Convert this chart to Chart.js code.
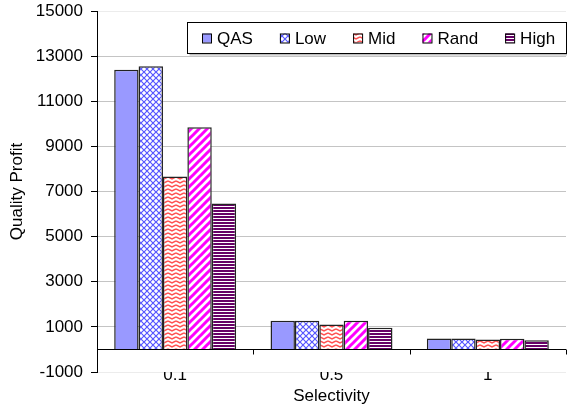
<!DOCTYPE html>
<html>
<head>
<meta charset="utf-8">
<script src="https://cdn.jsdelivr.net/npm/chart.js@4.4.0/dist/chart.umd.min.js"></script>
<style>
  body { margin: 0; background: #fff; }
  canvas { display: block; }
</style>
</head>
<body>
<canvas id="chart" width="567" height="412"></canvas>
<script>
"use strict";

// data
const categories = ["0.1", "0.5", "1"];
const seriesNames = ["QAS", "Low", "Mid", "Rand", "High"];
const qasValues = [12400, 1270, 490];
const lowValues = [12550, 1270, 490];
const midValues = [7670, 1100, 440];
const randValues = [9850, 1270, 470];
const highValues = [6470, 960, 410];
const yMin = -1000;
const yMax = 15000;
const yStep = 2000;

const FONT = "'Liberation Sans', Arial, sans-serif";
const FS = 17;

// patterns
function makePattern(w, h, draw) {
  const c = document.createElement("canvas");
  c.width = w;
  c.height = h;
  const g = c.getContext("2d");
  g.fillStyle = "#fff";
  g.fillRect(0, 0, w, h);
  draw(g);
  return document.getElementById("chart").getContext("2d").createPattern(c, "repeat");
}

const crossPattern = makePattern(6, 6, (g) => {
  g.strokeStyle = "#5555ff";
  g.lineWidth = 1.2;
  g.beginPath();
  g.moveTo(0, 0); g.lineTo(6, 6);
  g.moveTo(0, 6); g.lineTo(6, 0);
  g.stroke();
});

const zigzagPattern = makePattern(8, 4, (g) => {
  g.strokeStyle = "#ff5050";
  g.lineWidth = 1.4;
  g.beginPath();
  g.moveTo(0, 1); g.lineTo(4, 3); g.lineTo(8, 1);
  g.stroke();
});

const diagPattern = makePattern(8, 8, (g) => {
  g.strokeStyle = "#ff00ff";
  g.lineWidth = 3;
  g.beginPath();
  g.moveTo(-2, 10); g.lineTo(10, -2);
  g.moveTo(-6, 6); g.lineTo(6, -6);
  g.moveTo(2, 14); g.lineTo(14, 2);
  g.stroke();
});

const stripePattern = makePattern(4, 3, (g) => {
  g.fillStyle = "#660066";
  g.fillRect(0, 0, 4, 2);
});

const fills = ["#9999ff", crossPattern, zigzagPattern, diagPattern, stripePattern];
const values = [qasValues, lowValues, midValues, randValues, highValues];

// zero line and category ticks
const zeroLinePlugin = {
  id: "zeroLine",
  afterDatasetsDraw(chart) {
    const { ctx, chartArea, scales } = chart;
    const y0 = Math.round(scales.y.getPixelForValue(0)) + 0.5;
    ctx.save();
    ctx.strokeStyle = "#000";
    ctx.lineWidth = 1;
    ctx.beginPath();
    ctx.moveTo(chartArea.left, y0);
    ctx.lineTo(chartArea.right, y0);
    const half = (scales.x.getPixelForValue(1) - scales.x.getPixelForValue(0)) / 2;
    categories.forEach((c, i) => {
      const bx = Math.round(scales.x.getPixelForValue(i) + half) + 0.5;
      ctx.moveTo(bx, y0);
      ctx.lineTo(bx, y0 + 5);
    });
    ctx.stroke();
    ctx.restore();
  },
};

// legend box inside the plot
const boxLegendPlugin = {
  id: "boxLegend",
  afterDraw(chart) {
    const { ctx } = chart;
    const left = 187.5, top = 22.5, right = 566.5, bottom = 53.5;
    ctx.save();
    ctx.fillStyle = "#bdbdbd";
    ctx.fillRect(left + 2, bottom, right - left, 2);
    ctx.fillStyle = "#fff";
    ctx.fillRect(left, top, right - left, bottom - top);
    ctx.strokeStyle = "#000";
    ctx.lineWidth = 1;
    ctx.strokeRect(left, top, right - left, bottom - top);

    ctx.font = FS + "px " + FONT;
    ctx.textBaseline = "middle";
    let x = 202;
    const cy = 38.5;
    chart.data.datasets.forEach((ds) => {
      ctx.fillStyle = ds.backgroundColor;
      ctx.fillRect(x, cy - 5, 9, 9);
      ctx.strokeStyle = "#000";
      ctx.strokeRect(x + 0.5, cy - 4.5, 9, 9);
      ctx.fillStyle = "#000";
      ctx.fillText(ds.label, x + 15, cy + 1);
      x += 15 + ctx.measureText(ds.label).width + 27;
    });
    ctx.restore();
  },
};

const ctx = document.getElementById("chart").getContext("2d");
new Chart(ctx, {
  type: "bar",
  data: {
    labels: categories,
    datasets: seriesNames.map((name, i) => ({
      label: name,
      data: values[i],
      backgroundColor: fills[i],
      borderColor: "#222",
      borderWidth: 1.5,
      borderSkipped: "start",
      categoryPercentage: 0.78,
      barPercentage: 1.0,
    })),
  },
  options: {
    responsive: false,
    animation: false,
    layout: { padding: { top: 11, right: 1, left: 1, bottom: 0 } },
    plugins: {
      legend: { display: false },
      tooltip: { enabled: false },
    },
    scales: {
      x: {
        grid: { display: false, drawTicks: false },
        border: { display: false },
        ticks: { color: "#000", font: { family: FONT, size: FS }, padding: -7 },
        title: {
          display: true,
          text: "Selectivity",
          color: "#000",
          font: { family: FONT, size: FS },
          padding: { top: 0, bottom: 5 },
        },
        afterFit: (scale) => {
          scale.height = 40;
          scale.paddingLeft = 0;
          scale.paddingRight = 0;
        },
      },
      y: {
        min: yMin,
        max: yMax,
        ticks: {
          stepSize: yStep,
          color: "#000",
          font: { family: FONT, size: FS },
          padding: 8,
          callback: (v) => String(v),
        },
        grid: {
          color: (c) => (c.tick && (c.tick.value === yMax || c.tick.value === yMin) ? "#ececec" : "#c4c4c4"),
          tickColor: "#000",
          tickLength: 6,
        },
        border: { display: true, color: "#000", width: 1 },
        title: {
          display: true,
          text: "Quality Profit",
          color: "#000",
          font: { family: FONT, size: FS },
          padding: { top: 6, bottom: 0 },
        },
        afterFit: (scale) => {
          scale.width = 96;
          scale.paddingTop = 0;
          scale.paddingBottom = 0;
        },
      },
    },
  },
  plugins: [zeroLinePlugin, boxLegendPlugin],
});
</script>
</body>
</html>
